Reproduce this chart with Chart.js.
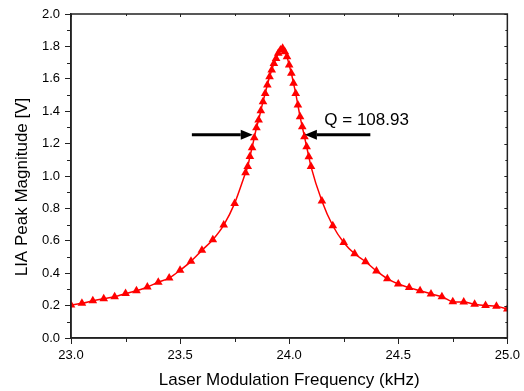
<!DOCTYPE html>
<html>
<head>
<meta charset="utf-8">
<script src="https://cdn.jsdelivr.net/npm/chart.js@4"></script>
<style>
  html, body { margin: 0; padding: 0; background: #fff; }
  #wrap { width: 524px; height: 391px; position: relative; }
</style>
</head>
<body>
<div id="wrap"><canvas id="c" width="524" height="391"></canvas></div>
<script>
// Data
const freqKHz = [
  23.00, 23.05, 23.10, 23.15, 23.20, 23.25, 23.30, 23.35, 23.40, 23.45,
  23.50, 23.55, 23.60, 23.65, 23.70, 23.75,
  23.80, 23.81, 23.82, 23.83, 23.84, 23.85, 23.86, 23.87, 23.88, 23.89,
  23.90, 23.91, 23.92, 23.93, 23.94, 23.95, 23.96, 23.97,
  23.98, 23.99, 24.00, 24.01, 24.02, 24.03, 24.04, 24.05, 24.06, 24.07,
  24.08, 24.09, 24.10,
  24.15, 24.20, 24.25, 24.30, 24.35, 24.40, 24.45, 24.50, 24.55, 24.60,
  24.65, 24.70, 24.75, 24.80, 24.85, 24.90, 24.95, 25.00
];
const magnitudeV = [
  0.204, 0.214, 0.230, 0.243, 0.255, 0.274, 0.292, 0.315, 0.344, 0.370,
  0.418, 0.473, 0.541, 0.607, 0.697, 0.831,
  1.020, 1.058, 1.120, 1.175, 1.236, 1.298, 1.346, 1.403, 1.459, 1.510,
  1.562, 1.613, 1.654, 1.695, 1.726, 1.757, 1.778, 1.788,
  1.767, 1.736, 1.685, 1.634, 1.572, 1.510, 1.438, 1.366, 1.304, 1.243,
  1.181, 1.119, 1.058,
  0.846, 0.693, 0.590, 0.520, 0.471, 0.414, 0.366, 0.333, 0.311, 0.292,
  0.272, 0.255, 0.224, 0.222, 0.208, 0.200, 0.196, 0.179
];
// Annotation: FWHM arrows and Q label (data coordinates)
const arrowY = 1.254;
const leftArrow = [23.554, 23.833];   // tail, tip
const rightArrow = [24.372, 24.072];  // tail, tip
const qLabel = "Q = 108.93";
const qLabelPos = [24.161, 1.315];    // left edge, baseline
const xTicks = [23.0, 23.5, 24.0, 24.5, 25.0];
const yTicks = [0.0, 0.2, 0.4, 0.6, 0.8, 1.0, 1.2, 1.4, 1.6, 1.8, 2.0];
const xTitle = 'Laser Modulation Frequency (kHz)';
const yTitle = 'LIA Peak Magnitude [V]';

const FONT = "Arial, 'Liberation Sans', sans-serif";
const AXIS_COLOR = '#222';

const points = freqKHz.map((f, i) => ({ x: f, y: magnitudeV[i] }));

const framePlugin = {
  id: 'frame',
  afterDraw(chart) {
    const { ctx, chartArea: a, scales: { x, y } } = chart;
    ctx.save();
    ctx.strokeStyle = AXIS_COLOR;
    ctx.lineWidth = 1.5;
    ctx.strokeRect(a.left, a.top, a.right - a.left, a.bottom - a.top);
    ctx.lineWidth = 1;
    // minor ticks on bottom
    for (let v = 23.25; v < 25; v += 0.5) {
      const px = Math.round(x.getPixelForValue(v)) + 0.5;
      ctx.beginPath(); ctx.moveTo(px, a.bottom); ctx.lineTo(px, a.bottom + 4); ctx.stroke();
      ctx.beginPath(); ctx.moveTo(px, a.top); ctx.lineTo(px, a.top + 2); ctx.stroke();
    }
    // minor ticks on left
    for (let v = 0.1; v < 2; v += 0.2) {
      const py = Math.round(y.getPixelForValue(v)) + 0.5;
      ctx.beginPath(); ctx.moveTo(a.left - 4, py); ctx.lineTo(a.left, py); ctx.stroke();
      ctx.beginPath(); ctx.moveTo(a.right, py); ctx.lineTo(a.right - 2, py); ctx.stroke();
    }
    // major ticks on top / right (small, inward)
    xTicks.forEach(v => {
      const px = Math.round(x.getPixelForValue(v)) + 0.5;
      ctx.beginPath(); ctx.moveTo(px, a.top); ctx.lineTo(px, a.top + 3); ctx.stroke();
    });
    yTicks.forEach(v => {
      const py = Math.round(y.getPixelForValue(v)) + 0.5;
      ctx.beginPath(); ctx.moveTo(a.right, py); ctx.lineTo(a.right - 3, py); ctx.stroke();
    });

    // arrows
    const ay = y.getPixelForValue(arrowY);
    const drawArrow = (tail, tip) => {
      const tx = x.getPixelForValue(tail), hx = x.getPixelForValue(tip);
      const dir = Math.sign(hx - tx);
      const headLen = 12, headHalf = 5;
      ctx.strokeStyle = '#000';
      ctx.fillStyle = '#000';
      ctx.lineWidth = 3;
      ctx.beginPath(); ctx.moveTo(tx, ay); ctx.lineTo(hx - dir * headLen, ay); ctx.stroke();
      ctx.beginPath();
      ctx.moveTo(hx, ay);
      ctx.lineTo(hx - dir * headLen, ay - headHalf);
      ctx.lineTo(hx - dir * headLen, ay + headHalf);
      ctx.closePath(); ctx.fill();
    };
    drawArrow(leftArrow[0], leftArrow[1]);
    drawArrow(rightArrow[0], rightArrow[1]);

    ctx.fillStyle = '#000';
    ctx.font = '17px ' + FONT;
    ctx.textAlign = 'left';
    ctx.textBaseline = 'alphabetic';
    ctx.fillText(qLabel, x.getPixelForValue(qLabelPos[0]), y.getPixelForValue(qLabelPos[1]));

    // y axis title (rotated)
    ctx.save();
    ctx.translate(22, 187);
    ctx.rotate(-Math.PI / 2);
    ctx.textAlign = 'center';
    ctx.textBaseline = 'middle';
    ctx.font = '17px ' + FONT;
    ctx.fillText(yTitle, 0, 0);
    ctx.restore();

    ctx.restore();
  }
};

new Chart(document.getElementById('c'), {
  type: 'line',
  data: {
    datasets: [{
      data: points,
      borderColor: '#ff0000',
      backgroundColor: '#ff0000',
      borderWidth: 1.5,
      pointStyle: 'triangle',
      pointRadius: 5,
      pointBorderWidth: 0,
      pointBackgroundColor: '#ff0000',
      cubicInterpolationMode: 'monotone',
      fill: false
    }]
  },
  options: {
    responsive: false,
    animation: false,
    devicePixelRatio: 1,
    layout: { padding: { top: 14, right: 16, left: 0, bottom: 0 } },
    plugins: { legend: { display: false }, tooltip: { enabled: false } },
    scales: {
      x: {
        type: 'linear',
        min: 23, max: 25,
        afterFit(s) { s.height = 53; },
        afterBuildTicks(s) { s.ticks = xTicks.map(v => ({ value: v })); },
        ticks: {
          color: '#000',
          font: { family: FONT, size: 13 },
          padding: 4,
          maxRotation: 0,
          callback: v => Number(v).toFixed(1)
        },
        grid: { drawOnChartArea: false, drawTicks: true, tickLength: 6, tickColor: AXIS_COLOR, tickWidth: 1 },
        border: { display: true, color: AXIS_COLOR, width: 1.5 },
        title: {
          display: true,
          text: xTitle,
          color: '#000',
          font: { family: FONT, size: 17 },
          padding: { top: 3, bottom: 0 }
        }
      },
      y: {
        type: 'linear',
        min: 0, max: 2,
        afterFit(s) { s.width = 71; },
        afterBuildTicks(s) { s.ticks = yTicks.map(v => ({ value: v })); },
        ticks: {
          color: '#000',
          font: { family: FONT, size: 13 },
          padding: 5,
          callback: v => Number(v).toFixed(1)
        },
        grid: { drawOnChartArea: false, drawTicks: true, tickLength: 6, tickColor: AXIS_COLOR, tickWidth: 1 },
        border: { display: true, color: AXIS_COLOR, width: 1.5 },
        title: { display: false }
      }
    }
  },
  plugins: [framePlugin]
});
</script>
</body>
</html>
